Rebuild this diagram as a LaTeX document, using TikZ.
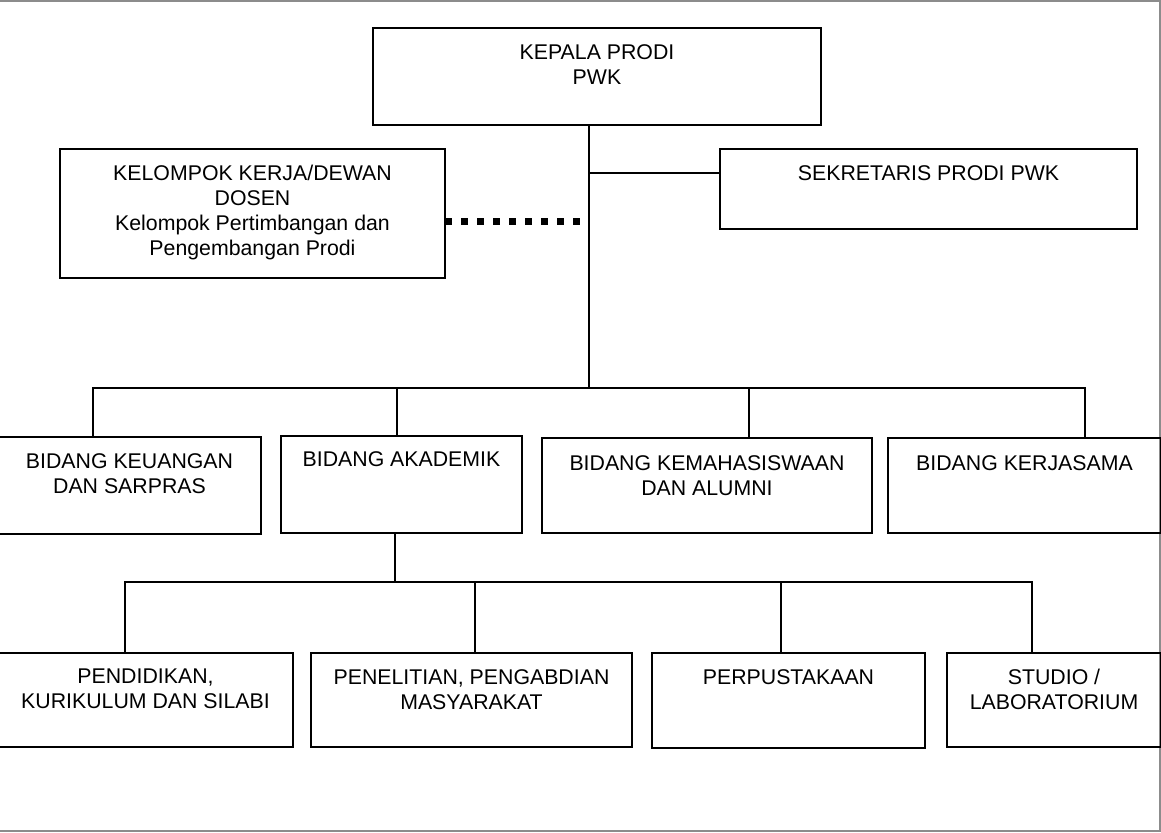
\documentclass[tikz,border=0pt]{standalone}
\usepackage{fontspec}
\setmainfont{Liberation Sans}
\begin{document}
\begin{tikzpicture}[x=1pt,y=-1pt,
  box/.style={draw=black, line width=2.3pt, rectangle, inner sep=0pt, outer sep=0pt, anchor=north west},
  lbl/.style={anchor=north, inner sep=0pt, align=center, font=\fontsize{21.3pt}{25pt}\selectfont},
  conn/.style={draw=black, line width=2pt},
  dotlink/.style={draw=black, line width=7pt, dash pattern=on 7.3pt off 8.7pt},
  frame/.style={draw=black!45, line width=1.5pt}]
\useasboundingbox (0,0) rectangle (1161,832);

% outer frame
\draw[frame] (0,1) -- (1160,1) -- (1160,831) -- (0,831);

% boxes
\node[box, minimum width=448pt, minimum height=97pt] (kepala) at (373,28) {};
\node[box, minimum width=417pt, minimum height=80pt] (sek) at (720,149) {};
\node[box, minimum width=385pt, minimum height=129pt] (kel) at (60,149) {};
\node[box, minimum width=263pt, minimum height=97pt] (keu) at (-2,437) {};
\node[box, minimum width=241pt, minimum height=97pt] (aka) at (281,436) {};
\node[box, minimum width=330pt, minimum height=95pt] (kem) at (542,438) {};
\node[box, minimum width=273pt, minimum height=95pt] (ker) at (888,438) {};
\node[box, minimum width=295pt, minimum height=94pt] (pen) at (-2,653) {};
\node[box, minimum width=321pt, minimum height=94pt] (pel) at (311,653) {};
\node[box, minimum width=273pt, minimum height=95pt] (per) at (652,653) {};
\node[box, minimum width=214pt, minimum height=94pt] (stu) at (947,653) {};

% box texts
\node[lbl] (kepala-t) at ([yshift=-16pt]kepala.north) {KEPALA PRODI\\PWK};
\node[lbl] (sek-t) at ([yshift=-16.5pt]sek.north) {SEKRETARIS PRODI PWK};
\node[lbl] (kel-t) at ([yshift=-16pt]kel.north) {KELOMPOK KERJA/DEWAN\\DOSEN\\Kelompok Pertimbangan dan\\Pengembangan Prodi};
\node[lbl] (keu-t) at ([yshift=-16pt]keu.north) {BIDANG KEUANGAN\\DAN SARPRAS};
\node[lbl] (aka-t) at ([yshift=-15pt]aka.north) {BIDANG AKADEMIK};
\node[lbl] (kem-t) at ([yshift=-17pt]kem.north) {BIDANG KEMAHASISWAAN\\DAN ALUMNI};
\node[lbl] (ker-t) at ([yshift=-17pt]ker.north) {BIDANG KERJASAMA};
\node[lbl] (pen-t) at ([yshift=-16pt]pen.north) {PENDIDIKAN,\\KURIKULUM DAN SILABI};
\node[lbl] (pel-t) at ([yshift=-16pt]pel.north) {PENELITIAN, PENGABDIAN\\MASYARAKAT};
\node[lbl] (per-t) at ([yshift=-16pt]per.north) {PERPUSTAKAAN};
\node[lbl] (stu-t) at ([yshift=-16pt]stu.north) {STUDIO /\\LABORATORIUM};

% junction points
\coordinate (tx) at (589,0);
\coordinate (sy) at (0,173);
\coordinate (dotend) at (581,221);
\coordinate (b2) at (589,388);
\coordinate (b2L) at (93,388);
\coordinate (b2a) at (397,388);
\coordinate (b2k) at (749,388);
\coordinate (b2R) at (1085,388);
\coordinate (c3) at (395,582);
\coordinate (c3L) at (125,582);
\coordinate (c3p) at (475,582);
\coordinate (c3q) at (781,582);
\coordinate (c3R) at (1032,582);

% head and secretary
\draw[conn] (kepala.south -| tx) -- (b2);
\draw[conn] (tx |- sy) -- (sek.west |- sy);
\draw[dotlink] (kel.east |- dotend) -- (dotend);

% second level
\draw[conn] (b2L |- keu.north) -- (b2L) -- (b2R) -- (b2R |- ker.north);
\draw[conn] (b2a) -- (b2a |- aka.north);
\draw[conn] (b2k) -- (b2k |- kem.north);

% third level
\draw[conn] (aka.south -| c3) -- (c3);
\draw[conn] (c3L |- pen.north) -- (c3L) -- (c3R) -- (c3R |- stu.north);
\draw[conn] (c3p) -- (c3p |- pel.north);
\draw[conn] (c3q) -- (c3q |- per.north);
\end{tikzpicture}
\end{document}
